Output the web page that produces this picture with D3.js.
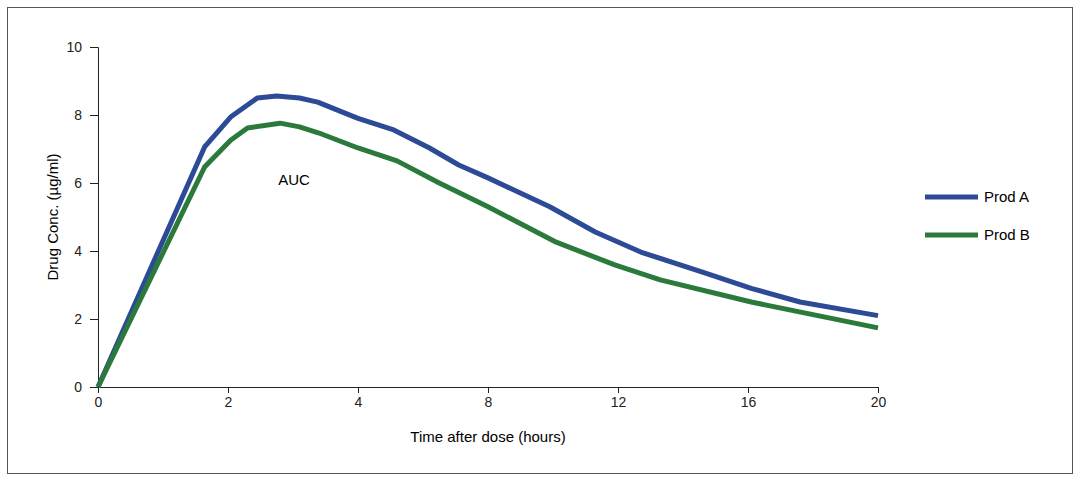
<!DOCTYPE html>
<html><head><meta charset="utf-8">
<script src="https://cdn.jsdelivr.net/npm/d3@7"></script>
<style>body{margin:0;background:#fff;font-family:"Liberation Sans Narrow","Liberation Sans",Arial,sans-serif;}</style>
</head><body><svg id="c" width="1080" height="483"></svg>
<script>
const xTicks=[0,2,4,8,12,16,20];
const yTicks=[0,2,4,6,8,10];
const timeA=[0,1.64,2.04,2.45,2.75,3.1,3.38,4.0,5.1,6.2,7.1,8,9.9,11.3,12.7,14.6,16.1,17.6,20];
const prodA=[0,7.06,7.94,8.5,8.56,8.5,8.38,7.9,7.56,7.03,6.53,6.15,5.3,4.56,3.97,3.38,2.9,2.5,2.1];
const timeB=[0,1.64,2.04,2.3,2.8,3.1,3.4,4,5.2,6.5,8,10.1,11.9,13.3,16.1,20];
const prodB=[0,6.47,7.26,7.62,7.76,7.65,7.47,7.03,6.65,6.0,5.3,4.26,3.59,3.15,2.5,1.74];
const series=[{name:"Prod A",t:timeA,v:prodA,c:"#2c4a96"},{name:"Prod B",t:timeB,v:prodB,c:"#2b7a3c"}];
const svg=d3.select("#c");
svg.append("rect").attr("x",7.5).attr("y",7.5).attr("width",1065).attr("height",466).attr("fill","none").attr("stroke","#555");
const x=d3.scaleLinear().domain(xTicks).range(xTicks.map((d,i)=>98+i*130));
const y=d3.scaleLinear().domain([0,10]).range([387,47]);
const gx=svg.append("g").attr("transform","translate(0,387)").call(d3.axisBottom(x).tickValues(xTicks).tickSize(6).tickPadding(4));
const gy=svg.append("g").attr("transform","translate(98,0)").call(d3.axisLeft(y).tickValues(yTicks).tickSize(8).tickPadding(8));
[gx,gy].forEach(g=>{g.selectAll("text").attr("font-size",14).attr("fill","#222").attr("font-family","Liberation Sans Narrow, Arial");g.selectAll("line,path").attr("stroke","#222");});
svg.append("text").attr("x",488).attr("y",442).attr("text-anchor","middle").attr("font-size",15).text("Time after dose (hours)");
svg.append("text").attr("transform","translate(58,217) rotate(-90)").attr("text-anchor","middle").attr("font-size",15).text("Drug Conc. (µg/ml)");
svg.append("text").attr("x",294).attr("y",185).attr("text-anchor","middle").attr("font-size",15).text("AUC");
const line=d3.line().x(d=>x(d[0])).y(d=>y(d[1]));
series.forEach((s,i)=>{
  svg.append("path").attr("d",line(s.t.map((t,j)=>[t,s.v[j]]))).attr("fill","none").attr("stroke",s.c).attr("stroke-width",5).attr("stroke-linejoin","round");
  const ly=197+i*38;
  svg.append("line").attr("x1",925).attr("x2",978).attr("y1",ly).attr("y2",ly).attr("stroke",s.c).attr("stroke-width",5);
  svg.append("text").attr("x",984).attr("y",ly+5).attr("font-size",15).text(s.name);
});
</script></body></html>
